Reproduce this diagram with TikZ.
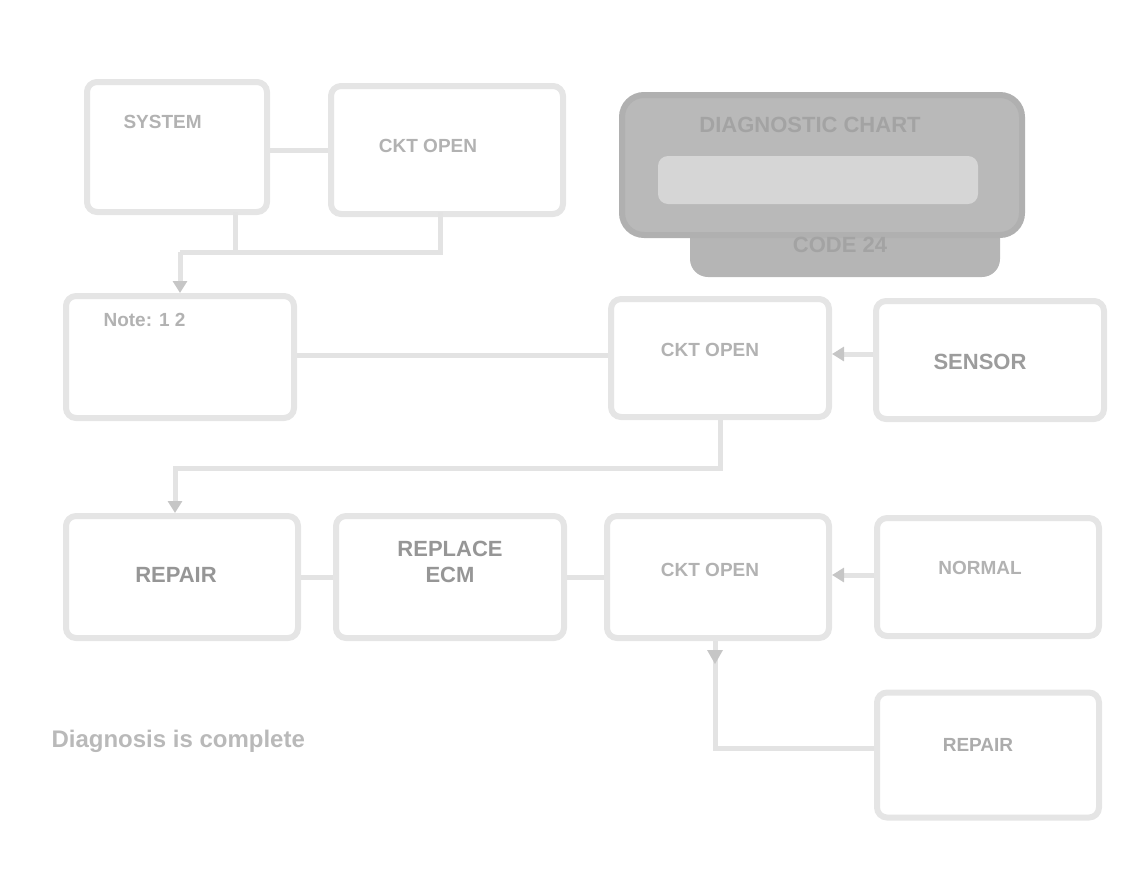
\documentclass[tikz,border=0pt]{standalone}
\usepackage{fontspec}
\setmainfont{Liberation Sans}
\usetikzlibrary{arrows.meta,positioning}
\begin{document}
\begin{tikzpicture}[x=1pt,y=-1pt,
  box/.style={draw=gray!20, line width=6pt, rounded corners=10pt, fill=white, inner sep=0pt},
  txt/.style={text=gray!60, font=\bfseries\fontsize{19}{22}\selectfont, align=center},
  dtxt/.style={text=gray!78, font=\bfseries\fontsize{22}{26}\selectfont, align=center},
  conn/.style={draw=gray!22, line width=5pt},
  arr/.style={draw=gray!22, line width=5pt, -{Triangle[length=12pt,width=14pt,color=gray!45]}}]
\useasboundingbox (0,0) rectangle (1139,892);
% row 1
\node[box, minimum width=180pt, minimum height=130pt] (a) at (177,147) {};
\node[txt, anchor=west] (at) at (120,122) {SYSTEM};
\node[box, minimum width=232pt, minimum height=128pt] (b) at (447,150) {};
\node[txt] (bt) at (428,146) {CKT OPEN};
% dark box
\node[fill=gray!58, rounded corners=18pt, minimum width=310pt, minimum height=110pt] (kl) at (845,222) {};
\node[draw=gray!62, fill=gray!55, line width=6pt, rounded corners=22pt, minimum width=400pt, minimum height=140pt] (k) at (822,165) {};
\node[fill=gray!32, rounded corners=10pt, minimum width=320pt, minimum height=48pt] (kin) at (818,180) {};
\node[dtxt, text=gray!72] (kt1) at (810,125) {DIAGNOSTIC CHART};
\node[dtxt, text=gray!72] (kt2) at (840,245) {CODE 24};
% row 2
\node[box, minimum width=228pt, minimum height=122pt] (c) at (180,357) {};
\node[txt, anchor=west] (ct) at (100,320) {Note: 1 2};
\node[box, minimum width=218pt, minimum height=118pt] (d) at (720,358) {};
\node[txt] (dt) at (710,350) {CKT OPEN};
\node[box, minimum width=228pt, minimum height=118pt] (e) at (990,360) {};
\node[dtxt] (et) at (980,362) {SENSOR};
% row 3
\node[box, minimum width=232pt, minimum height=122pt] (f) at (182,577) {};
\node[dtxt, text=gray!82] (ft) at (176,575) {REPAIR};
\node[box, minimum width=228pt, minimum height=122pt] (g) at (450,577) {};
\node[dtxt, text=gray!82] (gt) at (450,562) {REPLACE\\ECM};
\node[box, minimum width=222pt, minimum height=122pt] (h) at (718,577) {};
\node[txt] (ht) at (710,570) {CKT OPEN};
\node[box, minimum width=222pt, minimum height=118pt] (i) at (988,577) {};
\node[txt] (it) at (980,568) {NORMAL};
\node[box, minimum width=222pt, minimum height=125pt] (j) at (988,755) {};
\node[txt, text=gray!65] (jt) at (978,745) {REPAIR};
\node[txt, text=gray!55, font=\bfseries\fontsize{24}{28}\selectfont, anchor=west] (note) at (48,741) {Diagnosis is complete};
% connectors
\draw[conn] (a.east |- 0,150) -- (b.west |- 0,150);
\coordinate (j1) at (235,252);
\coordinate (j2) at (440,252);
\coordinate (j3) at (180,252);
\draw[conn] (235,212) -- (j1);
\draw[conn] (440,212) -- (j2) -- (j3);
\draw[arr] (j3) -- (c.north -| j3);
\draw[conn] (c.east |- 0,355) -- (d.west |- 0,355);
\draw[arr] (e.west |- 0,354) -- (d.east |- 0,354);
\coordinate (m1) at (720,468);
\coordinate (m2) at (175,468);
\draw[arr] (d.south -| m1) -- (m1) -- (m2) -- (f.north -| m2);
\draw[conn] (f.east |- 0,577) -- (g.west |- 0,577);
\draw[conn] (g.east |- 0,577) -- (h.west |- 0,577);
\draw[arr] (i.west |- 0,575) -- (h.east |- 0,575);
\coordinate (n1) at (715,748);
\draw[conn] (h.south -| n1) -- (n1) -- (j.west |- n1);
\fill[gray!45] (707,650) -- (723,650) -- (715,664) -- cycle;
\end{tikzpicture}
\end{document}
